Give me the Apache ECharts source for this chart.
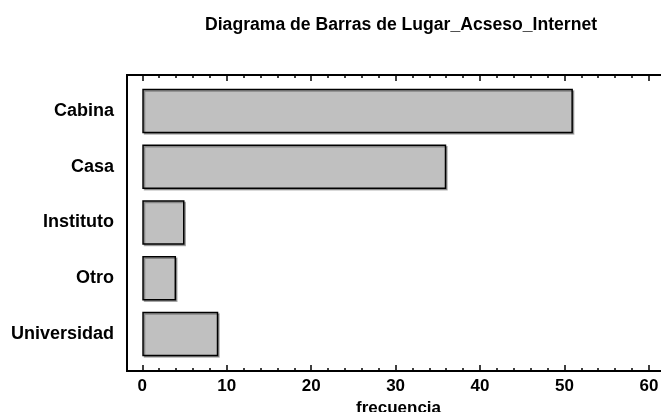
<!DOCTYPE html>
<html>
<head>
<meta charset="utf-8">
<style>
  html, body { margin: 0; padding: 0; background: #fff; }
  #chart { width: 661px; height: 412px; }
</style>
<script src="https://cdn.jsdelivr.net/npm/echarts@6/dist/echarts.min.js"></script>
</head>
<body>
<div id="chart"></div>
<script>
const categories = ['Cabina', 'Casa', 'Instituto', 'Otro', 'Universidad']
const frecuencias = [51, 36, 5, 4, 9]
const majorTicks = [0, 10, 20, 30, 40, 50, 60]
const minorTicks = [2, 4, 6, 8, 12, 14, 16, 18, 22, 24, 26, 28, 32, 34, 36, 38, 42, 44, 46, 48, 52, 54, 56, 58, 62]

const font = 'Liberation Sans, Arial, sans-serif'
const xMin = -1.81
const xMax = 62.5

const chart = echarts.init(document.getElementById('chart'))

// frame axes (grid 0) - ticks inside, no splitlines
function frameAxis(pos, ticks, len, labels) {
  return {
    type: 'value',
    gridIndex: 0,
    position: pos,
    min: xMin,
    max: xMax,
    axisLine: { show: true, onZero: false, lineStyle: { color: '#000', width: 2 } },
    axisTick: { show: true, inside: true, length: len, customValues: ticks, lineStyle: { color: '#000', width: 1.5 } },
    axisLabel: labels ? {
      show: true,
      customValues: ticks,
      margin: 7,
      color: '#000',
      fontFamily: font,
      fontWeight: 'bold',
      fontSize: 17
    } : { show: false },
    splitLine: { show: false }
  }
}

const bottomAxis = frameAxis('bottom', majorTicks, 6, true)
bottomAxis.name = 'frecuencia'
bottomAxis.nameLocation = 'middle'
bottomAxis.nameGap = 24
bottomAxis.nameTextStyle = { color: '#000', fontFamily: font, fontWeight: 'bold', fontSize: 17 }

chart.setOption({
  animation: false,
  title: {
    text: 'Diagrama de Barras de Lugar_Acseso_Internet',
    left: 200,
    top: 11,
    textStyle: { color: '#000', fontFamily: font, fontWeight: 'bold', fontSize: 17.6 }
  },
  grid: [
    { left: 127, top: 75, width: 543, height: 296, outerBoundsMode: 'none', containLabel: false },
    { left: 127, top: 83, width: 543, height: 279, outerBoundsMode: 'none', containLabel: false }
  ],
  xAxis: [
    bottomAxis,
    frameAxis('bottom', minorTicks, 3, false),
    frameAxis('top', majorTicks, 6, false),
    frameAxis('top', minorTicks, 3, false),
    {
      type: 'value',
      gridIndex: 1,
      min: xMin,
      max: xMax,
      show: false
    }
  ],
  yAxis: [
    {
      type: 'value',
      gridIndex: 0,
      min: 0,
      max: 1,
      axisLine: { show: true, onZero: false, lineStyle: { color: '#000', width: 2 } },
      axisTick: { show: false },
      axisLabel: { show: false },
      splitLine: { show: false }
    },
    {
      type: 'category',
      gridIndex: 1,
      inverse: true,
      data: categories,
      axisLine: { show: false },
      axisTick: { show: false },
      axisLabel: {
        margin: 13,
        padding: [4, 0, 0, 0],
        color: '#000',
        fontFamily: font,
        fontWeight: 'bold',
        fontSize: 18
      }
    }
  ],
  series: [{
    type: 'bar',
    xAxisIndex: 4,
    yAxisIndex: 1,
    data: frecuencias,
    barWidth: 44.5,
    itemStyle: {
      color: '#c0c0c0',
      borderColor: '#000',
      borderWidth: 1.5,
      shadowColor: 'rgba(0,0,0,0.3)',
      shadowBlur: 0,
      shadowOffsetX: 1.5,
      shadowOffsetY: 1.5
    }
  }]
})
</script>
</body>
</html>
